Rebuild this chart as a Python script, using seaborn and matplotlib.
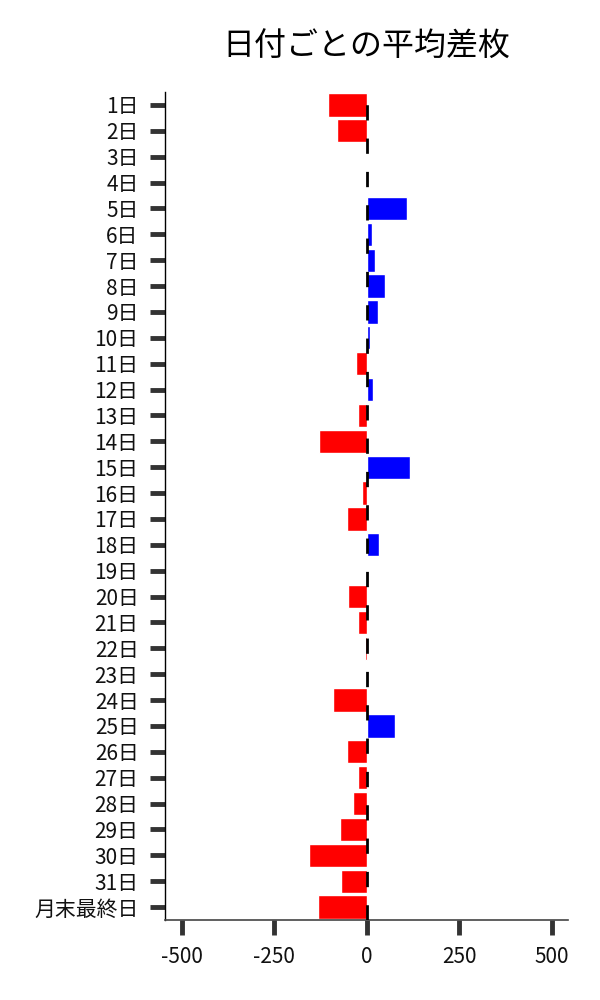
import matplotlib
matplotlib.use("Agg")
import matplotlib.pyplot as plt
import numpy as np
import pandas as pd
import seaborn as sns

# Average difference per day of month
days = [f"{d}日" for d in range(1, 32)] + ["月末最終日"]
avg_diff = [
    -105, -81, 1, 0, 108, 15, 24, 51, 32, 10,
    -30, 18, -22, -130, 116, -13, -54, 34, -2, -49,
    -24, -4, 0, -92, 78, -54, -22, -38, -73, -157,
    -68, -132,
]

sns.set_theme(style="ticks")
plt.rcParams["font.family"] = ["Noto Sans CJK JP", "DejaVu Sans"]
plt.rcParams["axes.unicode_minus"] = False

df = pd.DataFrame({"day": days, "diff": avg_diff})
df["sign"] = np.where(df["diff"] >= 0, "plus", "minus")

fig, ax = plt.subplots(figsize=(6, 10), dpi=100)
fig.subplots_adjust(left=0.275, right=0.947, top=0.908, bottom=0.08)

sns.barplot(
    data=df, x="diff", y="day", hue="sign",
    palette={"plus": "#0000FF", "minus": "#FF0000"},
    dodge=False, legend=False, width=0.9, saturation=1, ax=ax,
)
ax.axvline(0, color="black", lw=2.0, linestyle=(0, (5.5, 6.5)), zorder=3)

ax.set_xlim(-545, 545)
ax.set_xticks([-500, -250, 0, 250, 500])
ax.set_xlabel("")
ax.set_ylabel("")
ax.set_title("日付ごとの平均差枚", fontsize=23, pad=26, color="black")
ax.tick_params(axis="both", labelsize=15, length=11, width=3.5,
               color="#333333", labelcolor="#111111", pad=8)
ax.spines["left"].set_color("black")
ax.spines["left"].set_linewidth(1.0)
ax.spines["bottom"].set_color("#444444")
ax.spines["bottom"].set_linewidth(1.2)
sns.despine(ax=ax)

fig.savefig("out.png", dpi=100)
